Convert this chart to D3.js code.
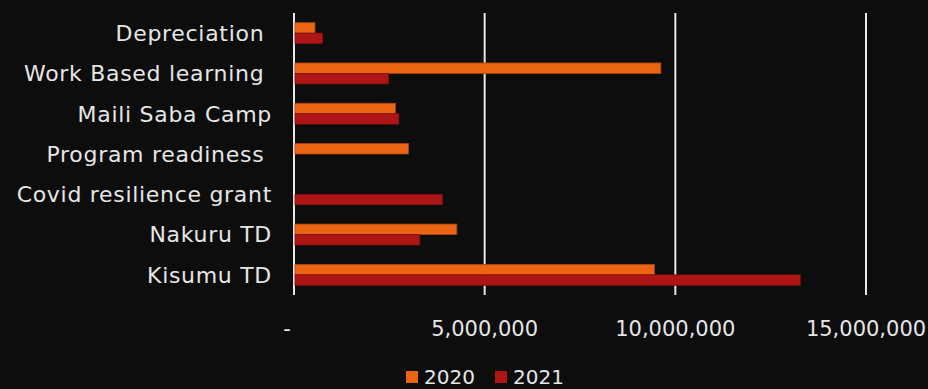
<!DOCTYPE html>
<html>
<head>
<meta charset="utf-8">
<script src="https://cdn.jsdelivr.net/npm/d3@7"></script>
<style>
  body { margin: 0; background: #0d0d0d; }
  svg { display: block; font-family: "DejaVu Sans", sans-serif; }
  text { white-space: pre; }
</style>
</head>
<body>
<div id="chart"></div>
<script>
// categories top to bottom (trailing spaces as in the source sheet)
const categories = ["Depreciation ", "Work Based learning ", "Maili Saba Camp", "Program readiness ",
                    "Covid resilience grant", "Nakuru TD", "Kisumu TD"];
const seriesNames = ["2020", "2021"];
const values2020 = [550000, 9620000, 2660000, 3000000, 0, 4270000, 9450000];
const values2021 = [750000, 2480000, 2750000, 0, 3890000, 3300000, 13280000];
const xTicks = [0, 5000000, 10000000, 15000000];

const colors = {"2020": "#ea6414", "2021": "#b01515"};
const strokes = {"2020": "#a8460f", "2021": "#7a0e0e"};

const width = 928, height = 389;
const margin = {top: 13, right: 62, bottom: 94, left: 294};

const svg = d3.select("#chart").append("svg")
    .attr("width", width)
    .attr("height", height);

svg.append("rect").attr("width", width).attr("height", height).attr("fill", "#0d0d0d");

const x = d3.scaleLinear()
    .domain([0, 15000000])
    .range([margin.left, width - margin.right]);

const y = d3.scaleBand()
    .domain(categories)
    .range([margin.top, height - margin.bottom])
    .paddingInner(0.48)
    .paddingOuter(0.24);

const ySub = d3.scaleBand()
    .domain(seriesNames)
    .range([0, y.bandwidth()]);

// gridlines
svg.append("g")
  .selectAll("line")
  .data(xTicks)
  .join("line")
    .attr("x1", d => x(d)).attr("x2", d => x(d))
    .attr("y1", margin.top).attr("y2", height - margin.bottom)
    .attr("stroke", "#e6e6e6")
    .attr("stroke-width", 2);

// bars
const rows = categories.map((c, i) => ({cat: c, vals: [values2020[i], values2021[i]]}));
const groups = svg.append("g")
  .selectAll("g")
  .data(rows)
  .join("g")
    .attr("transform", d => `translate(0,${y(d.cat)})`);

groups.selectAll("rect")
  .data(d => d.vals.map((v, j) => ({key: seriesNames[j], value: v})).filter(e => e.value > 0))
  .join("rect")
    .attr("x", x(0) + 1)
    .attr("y", d => ySub(d.key))
    .attr("width", d => x(d.value) - x(0) - 1)
    .attr("height", ySub.bandwidth())
    .attr("fill", d => colors[d.key])
    .attr("stroke", d => strokes[d.key])
    .attr("stroke-width", 0.8);

// category labels
svg.append("g")
  .selectAll("text")
  .data(categories)
  .join("text")
    .attr("x", 272)
    .attr("y", d => y(d) + y.bandwidth() / 2)
    .attr("dy", "0.36em")
    .attr("text-anchor", "end")
    .attr("fill", "#e6e6e6")
    .style("font-size", "22px")
    .style("letter-spacing", "0.7px")
    .text(d => d);

// x axis labels
const fmt = d3.format(",");
svg.append("g")
  .selectAll("text")
  .data(xTicks)
  .join("text")
    .attr("x", d => x(d))
    .attr("dx", d => d === 0 ? -7 : 0)
    .attr("y", 336)
    .attr("text-anchor", "middle")
    .attr("fill", "#e6e6e6")
    .style("font-size", "21px")
    .text(d => d === 0 ? "-" : fmt(d));

// legend
const legend = svg.append("g").attr("transform", "translate(406,371)");
const items = legend.selectAll("g")
  .data(seriesNames)
  .join("g")
    .attr("transform", (d, i) => `translate(${i * 89},0)`);
items.append("rect")
    .attr("width", 12).attr("height", 12)
    .attr("fill", d => colors[d]);
items.append("text")
    .attr("x", 18).attr("y", 13)
    .attr("fill", "#e6e6e6")
    .style("font-size", "20px")
    .text(d => d);
</script>
</body>
</html>
